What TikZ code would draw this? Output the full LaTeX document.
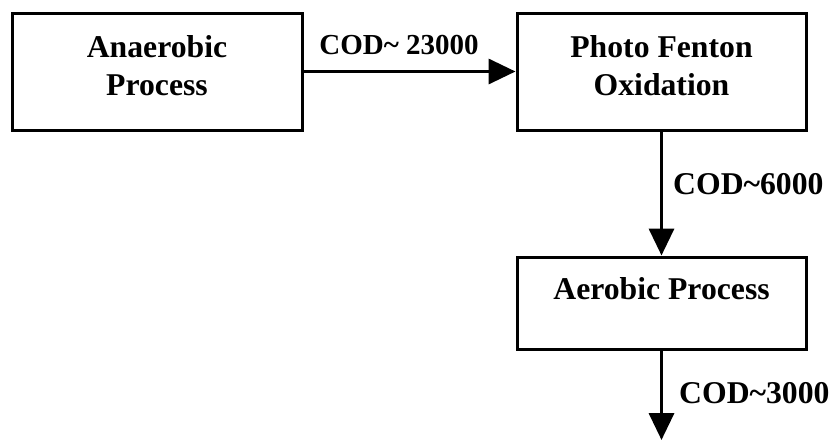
\documentclass[tikz,border=0pt]{standalone}
\usepackage{fontspec}
\setmainfont{Liberation Serif}
\usetikzlibrary{arrows.meta}
\begin{document}
\begin{tikzpicture}[x=1pt,y=-1pt,
  box/.style={draw=black,line width=3pt,inner sep=0pt},
  txt/.style={inner sep=0pt,align=center,font=\fontsize{31.7}{38}\selectfont\bfseries},
  flow/.style={line width=3.5pt,-{Triangle[length=27pt,width=25pt]}}]
\useasboundingbox (0,0) rectangle (832,440);
\node[box,minimum width=290pt,minimum height=117pt] (a) at (157,71.5) {};
\node[box,minimum width=289pt,minimum height=117pt] (b) at (661.5,71.5) {};
\node[box,minimum width=289pt,minimum height=92pt] (c) at (661.5,303) {};
\node[txt,anchor=base] (at) at (157,95) {Anaerobic\\Process};
\node[txt,anchor=base] (bt) at (661.5,95) {Photo Fenton\\Oxidation};
\node[txt,anchor=base] (ct) at (661.5,299) {Aerobic Process};
\coordinate (end) at (661.5,440);
\draw[flow] (a.east) -- (b.west);
\draw[flow] (b.south) -- (c.north);
\draw[flow] (c.south) -- (end);
\node[txt,anchor=base,font=\fontsize{29}{35}\selectfont\bfseries] (l1) at (399,54) {COD\char`~\ 23000};
\node[txt,anchor=base west] (l2) at (673,194) {COD\char`~6000};
\node[txt,anchor=base west] (l3) at (679,403) {COD\char`~3000};
\end{tikzpicture}
\end{document}
